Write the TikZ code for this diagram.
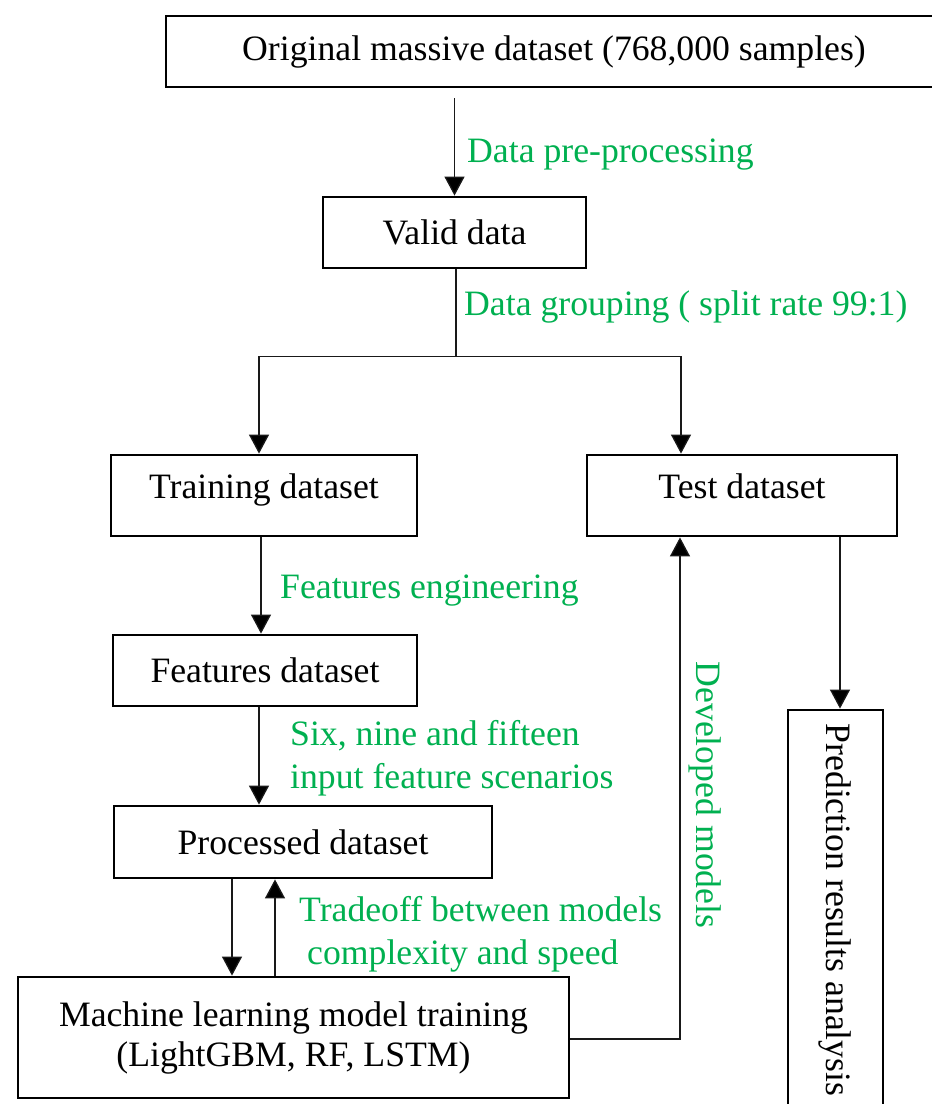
\documentclass[tikz,border=0pt]{standalone}
\usepackage{fontspec}
\setmainfont{Liberation Serif}
\usetikzlibrary{arrows.meta,calc}
\definecolor{lblgreen}{RGB}{0,176,80}
\begin{document}
\begin{tikzpicture}[x=1pt,y=-1pt,
  box/.style={draw=black, line width=2.8pt, inner sep=0pt, font=\fontsize{35.7pt}{40pt}\selectfont, align=center},
  raised/.style={text height=0.75em, text depth=0.25em},
  conn/.style={draw=black!90, line width=1.3pt},
  arr/.style={conn, -{Triangle[width=20pt,length=19pt,fill=black]}},
  lbl/.style={text=lblgreen, font=\fontsize{35.7pt}{43pt}\selectfont, inner sep=0pt}]
\useasboundingbox (0,0) rectangle (932,1104);

\node[box, minimum width=776pt, minimum height=71pt] (orig) at (554,51.5) {Original massive dataset (768,000 samples)};
\node[box, minimum width=263pt, minimum height=71pt] (valid) at (454.5,232.5) {Valid data};
\node[box, raised, minimum width=306pt, minimum height=81pt] (train) at (264,495.5) {Training dataset};
\node[box, raised, minimum width=310pt, minimum height=81pt] (test) at (742,495.5) {Test dataset};
\node[box, minimum width=304pt, minimum height=71pt] (feat) at (265,670.5) {Features dataset};
\node[box, minimum width=378pt, minimum height=72pt] (proc) at (303,842) {Processed dataset};
\node[box, minimum width=551pt, minimum height=121pt] (ml) at (293.5,1037.5) {Machine learning model training\\(LightGBM, RF, LSTM)};
\node[box, rotate=-90, minimum width=400pt, minimum height=95pt] (pred) at (835.5,910) {Prediction results analysis};

% connectors
\draw[arr] ($(orig.south -| valid.north)+(0,10)$) -- (valid.north);
\path (valid.south) ++(1.5,87) coordinate (split);
\draw[conn] ([xshift=1.5pt]valid.south) -- (split);
\draw[arr] (split) -| ([xshift=-5pt]train.north);
\draw[arr] (split) -| ([xshift=-61pt]test.north);
\draw[arr] ([xshift=-3pt]train.south) -- ([xshift=-3pt]train.south |- feat.north);
\draw[arr] ([xshift=-6pt]feat.south) -- ([xshift=-6pt]feat.south |- proc.north);
\draw[arr] ([xshift=-71pt]proc.south) -- ([xshift=-71pt]proc.south |- ml.north);
\draw[arr] ([xshift=-28pt]proc.south |- ml.north) -- ([xshift=-28pt]proc.south);
\draw[arr] ([yshift=-1.5pt]ml.east) -| ([xshift=-62pt]test.south);
\draw[arr] ([xshift=98pt]test.south) -- ([xshift=98pt]test.south |- pred.west);

% labels
\node[lbl, anchor=base west] (l1) at (467,162) {Data pre-processing};
\node[lbl, anchor=base west] (l2) at (464,315) {Data grouping ( split rate 99:1)};
\node[lbl, anchor=base west] (l3) at (280,598) {Features engineering};
\node[lbl, anchor=north west, align=left] (l4) at (290,720) {Six, nine and fifteen\\input feature scenarios};
\node[lbl, anchor=north west, align=left] (l5) at (299,896) {Tradeoff between models\\\hspace{8pt}complexity and speed};
\node[lbl, rotate=-90] (l6) at (705,795) {Developed models};
\end{tikzpicture}
\end{document}
